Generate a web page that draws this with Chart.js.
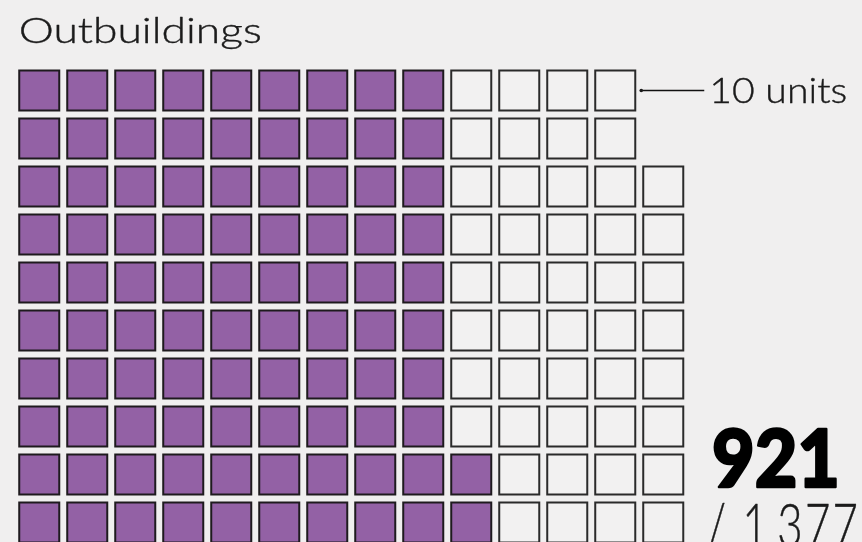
<!DOCTYPE html>
<html>
<head>
<meta charset="utf-8">
<script src="https://cdn.jsdelivr.net/npm/chart.js@4.4.1/dist/chart.umd.min.js"></script>
<style>
  html, body { margin: 0; padding: 0; background: #f0efef; }
  #wrap { position: relative; width: 862px; height: 542px; overflow: hidden; }
  canvas { display: block; }
</style>
</head>
<body>
<div id="wrap"><canvas id="c" width="862" height="542"></canvas></div>
<script>
// ---- data ----
const categories = ['Outbuildings'];
const values = [921];
const totals = [1377];
const unitSize = [10];           // one square = 10 units
const unitLabel = ['10 units'];
const gridRows = [10];

// ---- cells built from the values ----
const filledCount = Math.round(values[0] / unitSize[0]);
const totalCount = Math.round(totals[0] / unitSize[0]);
const filledCells = [], emptyCells = [];
for (let i = 0; i < totalCount; i++) {
  const cell = { x: Math.floor(i / gridRows[0]) + 1, y: (i % gridRows[0]) + 1 };
  (i < filledCount ? filledCells : emptyCells).push(cell);
}
const topRowCells = filledCells.concat(emptyCells).filter(c => c.y === gridRows[0]);
const topRowLastX = Math.max(...topRowCells.map(c => c.x));

const PURPLE = '#9361a5';
const INK = '#1e1a1e';
const CELL_R = 28.3; // rect side = r * sqrt2

function fmt(n) {
  return String(n).replace(/\B(?=(\d{3})+(?!\d))/g, '\u2009');
}
// draw text stretched horizontally to a given width
function fitText(ctx, text, x, y, width, strokeW) {
  const w = ctx.measureText(text).width;
  ctx.save();
  ctx.translate(x, y);
  ctx.scale(width / w, 1);
  ctx.fillText(text, 0, 0);
  if (strokeW) {
    ctx.lineWidth = strokeW;
    ctx.lineJoin = 'round';
    ctx.strokeStyle = ctx.fillStyle;
    ctx.strokeText(text, 0, 0);
  }
  ctx.restore();
}

const textPlugin = {
  id: 'waffleText',
  afterDraw(chart) {
    const { ctx, scales } = chart;
    const xs = scales.x, ys = scales.y;
    const half = CELL_R * Math.SQRT1_2;
    ctx.save();
    ctx.fillStyle = '#1b1b1b';
    ctx.textBaseline = 'alphabetic';
    ctx.textAlign = 'left';
    // title
    ctx.font = '300 35px Lato';
    fitText(ctx, categories[0], xs.getPixelForValue(1) - half - 0.5, 43, 243, 0.4);
    // leader line
    const ly = ys.getPixelForValue(gridRows[0]);
    const lx0 = xs.getPixelForValue(topRowLastX) + half + 5;
    ctx.strokeStyle = '#111';
    ctx.lineWidth = 1.6;
    ctx.beginPath();
    ctx.moveTo(lx0, ly);
    ctx.lineTo(lx0 + 64, ly);
    ctx.stroke();
    ctx.beginPath();
    ctx.arc(lx0 + 1, ly, 1.8, 0, Math.PI * 2);
    ctx.fill();
    // unit label
    ctx.font = '300 36px Lato';
    fitText(ctx, unitLabel[0], lx0 + 69, ly + 13, 138, 0.4);
    // big value
    ctx.font = '900 80px Lato';
    ctx.fillStyle = '#000';
    fitText(ctx, fmt(values[0]), 712, 487, 128, 2.5);
    // total
    ctx.font = '300 62px Lato';
    ctx.fillStyle = '#1b1b1b';
    ctx.letterSpacing = '3px';
    fitText(ctx, '/ ' + fmt(totals[0]), 707, 547, 153, 0.5);
    ctx.restore();
  }
};

new Chart(document.getElementById('c'), {
  type: 'scatter',
  data: {
    datasets: [
      {
        label: 'filled',
        data: filledCells,
        pointStyle: 'rect',
        pointRadius: CELL_R,
        pointHoverRadius: CELL_R,
        backgroundColor: PURPLE,
        borderColor: INK,
        borderWidth: 2
      },
      {
        label: 'remaining',
        data: emptyCells,
        pointStyle: 'rect',
        pointRadius: CELL_R,
        pointHoverRadius: CELL_R,
        backgroundColor: 'rgba(255,255,255,0.15)',
        borderColor: '#2a2a2a',
        borderWidth: 2
      }
    ]
  },
  options: {
    responsive: false,
    animation: false,
    events: [],
    layout: { padding: 0, autoPadding: false },
    plugins: { legend: { display: false }, tooltip: { enabled: false }, title: { display: false } },
    scales: {
      x: { type: 'linear', display: false, min: 0.1823, max: 18.1406 },
      y: { type: 'linear', display: false, min: 0.5937, max: 11.8854 }
    }
  },
  plugins: [textPlugin]
});
</script>
</body>
</html>
